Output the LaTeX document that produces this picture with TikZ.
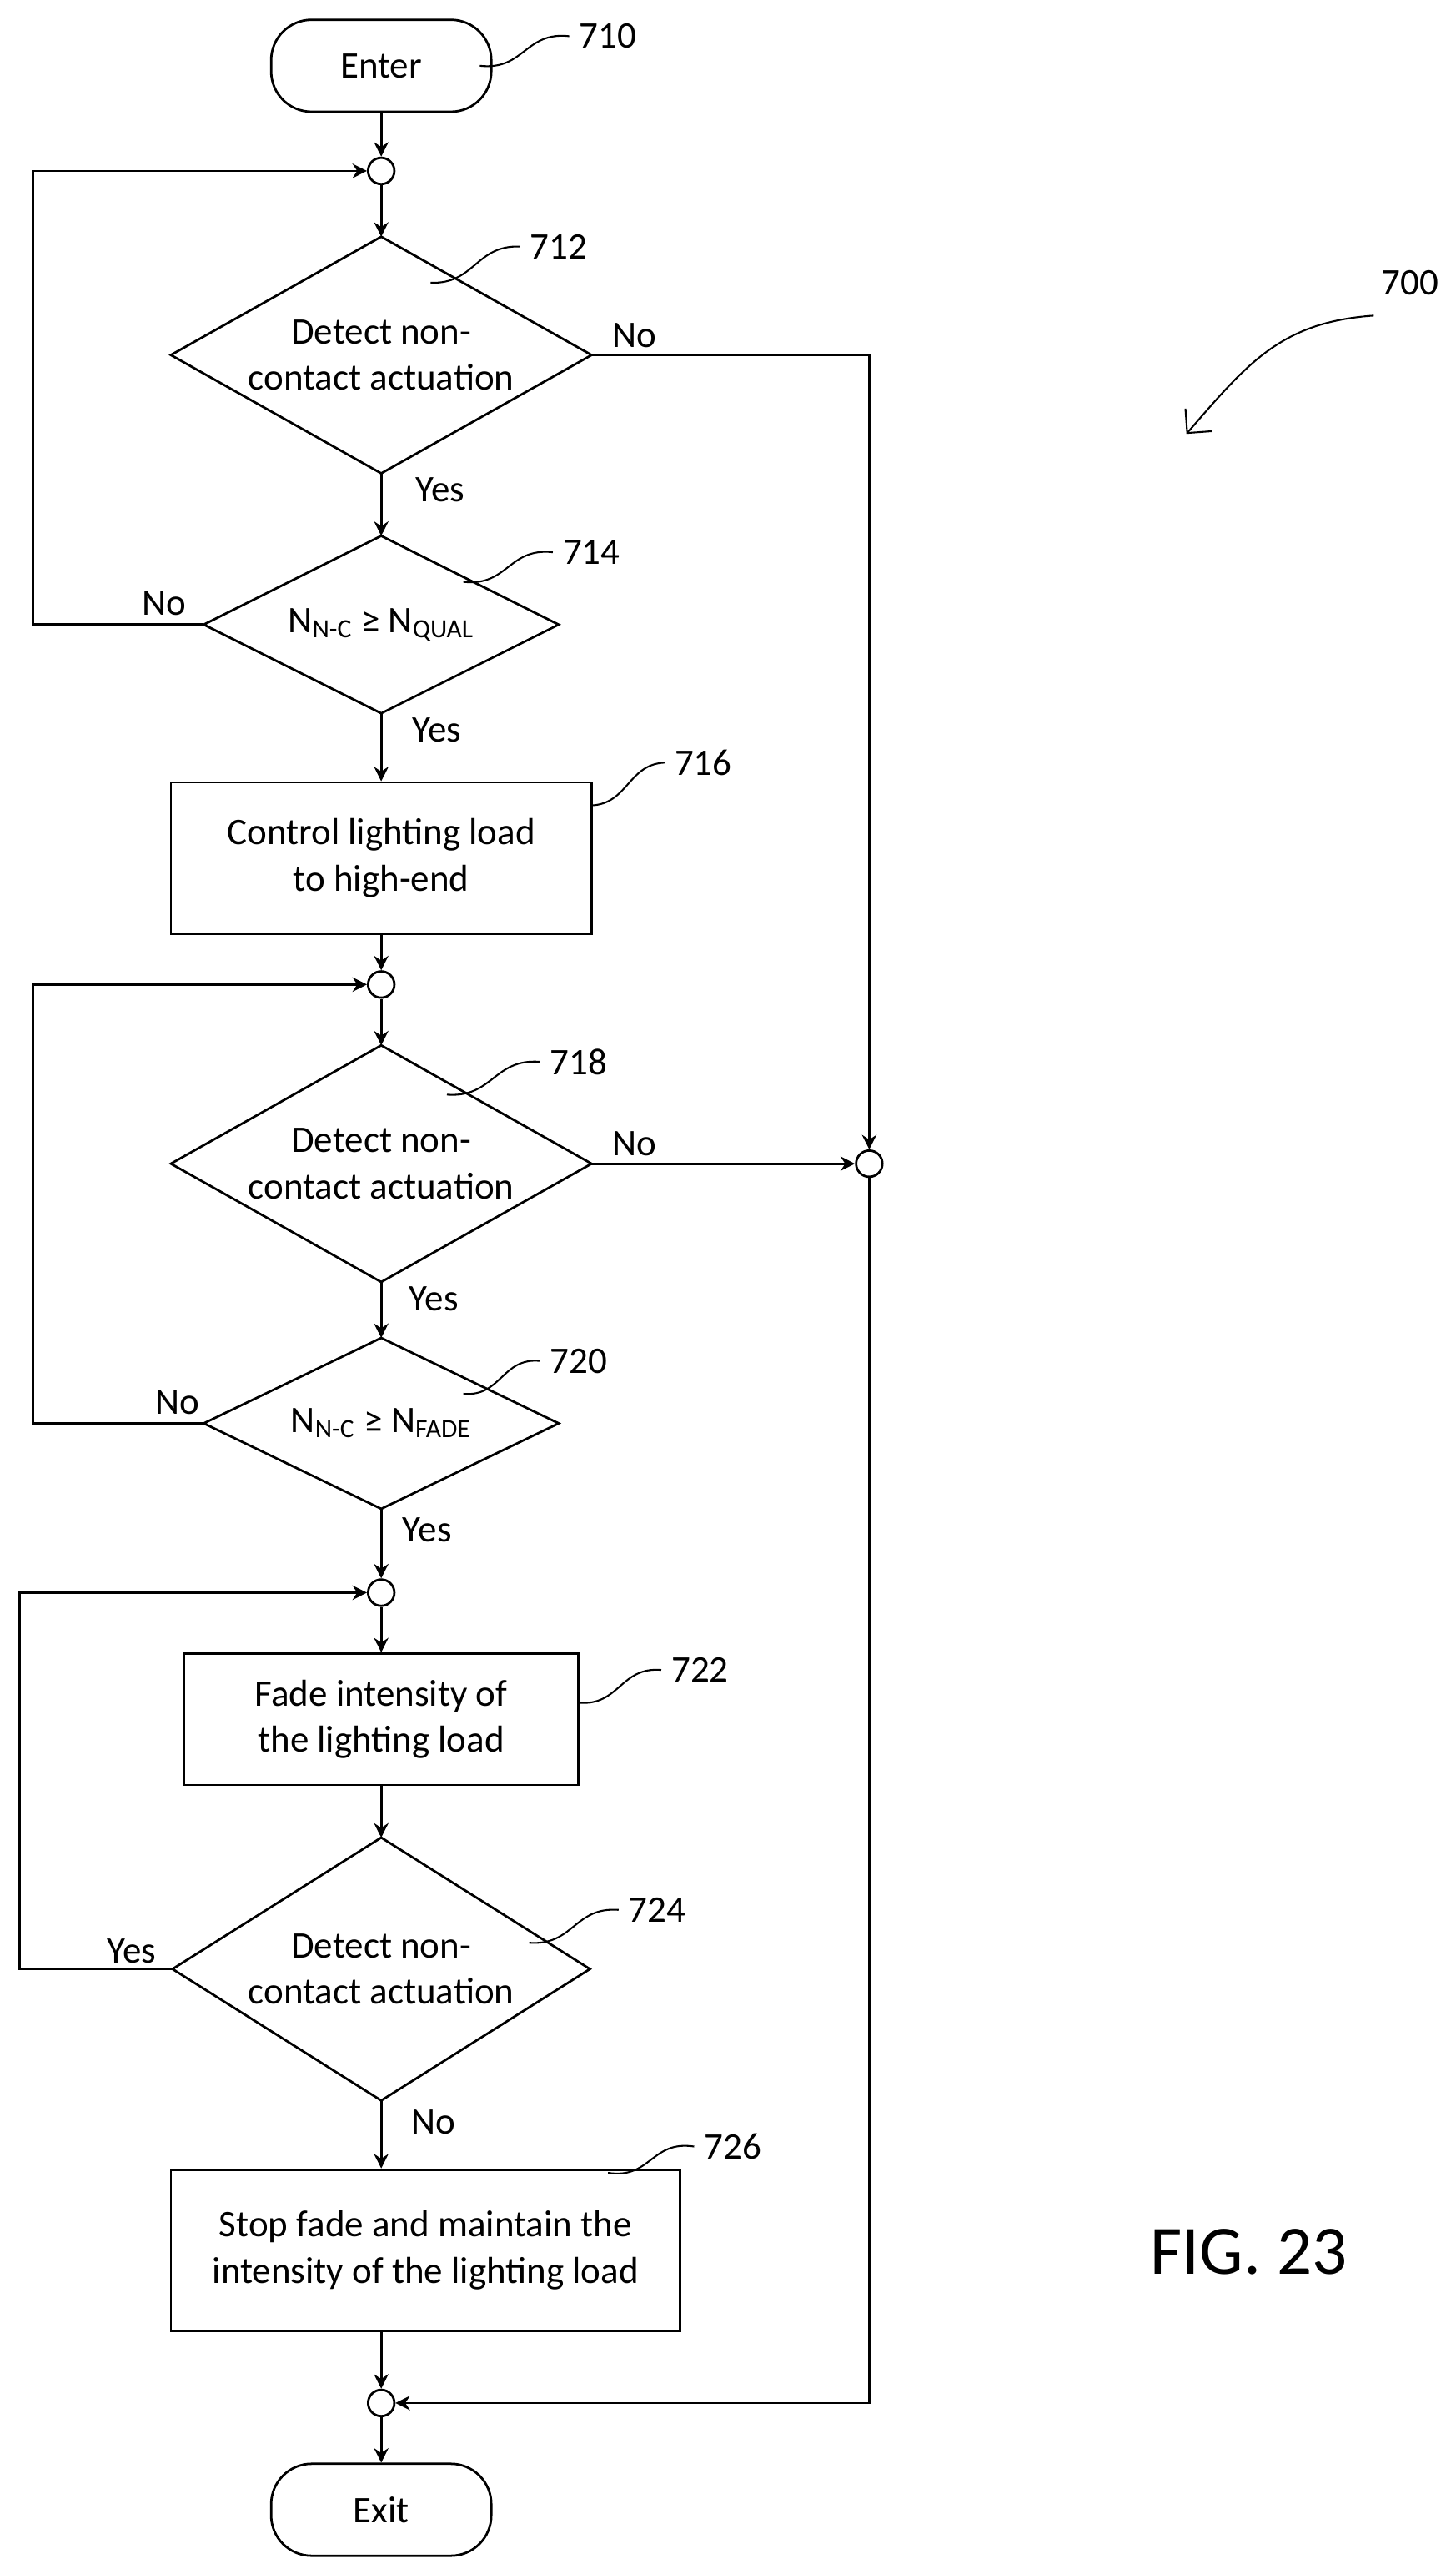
\documentclass[tikz,border=0pt]{standalone}
\usepackage{fontspec}
\setmainfont{Carlito}
\usetikzlibrary{arrows.meta,calc}
\begin{document}
\begin{tikzpicture}[x=0.02cm,y=-0.02cm,
  every node/.style={font=\fontsize{13}{16}\selectfont},
  box/.style={draw,thick,align=center,inner sep=0},
  term/.style={draw,thick,rounded corners=14,minimum width=2.68cm,minimum height=1.12cm},
  junc/.style={draw,thick,circle,minimum size=0.32cm,inner sep=0},
  ar/.style={thick,-{Stealth[length=5pt,width=5pt]}},
  lead/.style={semithick}]
\useasboundingbox (0,0) rectangle (886,1560);
% terminals
\node[term] (enter) at (232,40) {Enter};
\node[term] (exit) at (232,1527) {Exit};
% junctions
\node[junc] (j1) at (232,104) {};
\node[junc] (j2) at (232,599) {};
\node[junc] (j3) at (232,969) {};
\node[junc] (j4) at (232,1462) {};
\node[junc] (jr) at (529,708) {};
% diamonds
\newcommand{\dia}[6]{% name, cx, cy, halfw, halfh, text
  \coordinate (#1t) at (#2,#3-#5); \coordinate (#1b) at (#2,#3+#5);
  \coordinate (#1l) at (#2-#4,#3); \coordinate (#1r) at (#2+#4,#3);
  \draw[thick] (#1t)--(#1r)--(#1b)--(#1l)--cycle;
  \node[align=center] (#1) at (#2,#3) {#6};}
\dia{d712}{232}{216}{128}{72}{Detect non-\\contact actuation}
\dia{d714}{232}{380}{108}{54}{N\textsubscript{N-C} ≥ N\textsubscript{QUAL}}
\dia{d718}{232}{708}{128}{72}{Detect non-\\contact actuation}
\dia{d720}{232}{866}{108}{52}{N\textsubscript{N-C} ≥ N\textsubscript{FADE}}
\dia{d724}{232}{1198}{127}{80}{Detect non-\\contact actuation}
% boxes
\node[box,minimum width=5.12cm,minimum height=1.84cm] (r716) at (232,522) {Control lighting load\\to high-end};
\node[box,minimum width=4.8cm,minimum height=1.6cm] (r722) at (232,1046) {Fade intensity of\\the lighting load};
\node[box,minimum width=6.2cm,minimum height=1.96cm] (r726) at (259,1369) {Stop fade and maintain the\\intensity of the lighting load};
% main flow
\draw[ar] (enter) -- (j1);
\draw[ar] (j1) -- (d712t);
\draw[ar] (d712b) -- (d714t);
\draw[ar] (d714b) -- (r716.north -| d714b);
\draw[ar] (r716.south -| j2) -- (j2);
\draw[ar] (j2) -- (d718t);
\draw[ar] (d718b) -- (d720t);
\draw[ar] (d720b) -- (j3);
\draw[ar] (j3) -- (r722);
\draw[ar] (r722) -- (d724t);
\draw[ar] (d724b) -- (r726.north -| d724b);
\draw[ar] (r726.south -| j4) -- (j4);
\draw[ar] (j4) -- (exit);
% loops
\draw[ar] (d714l) -- (20,380) -- (20,104) -- (j1);
\draw[ar] (d720l) -- (20,866) -- (20,599) -- (j2);
\draw[ar] (d724l) -- (12,1198) -- (12,969) -- (j3);
% right side
\draw[ar] (d712r) -- (529,216) -- (jr);
\draw[ar] (d718r) -- (jr);
\draw[ar] (jr) -- (529,1462) -- (j4);
% labels
\node (l1) at (386,204) {No};
\node (l2) at (268,298) {Yes};
\node (l3) at (100,367) {No};
\node (l4) at (266,444) {Yes};
\node (l5) at (386,696) {No};
\node (l6) at (264,790) {Yes};
\node (l7) at (108,853) {No};
\node (l8) at (260,931) {Yes};
\node (l9) at (80,1187) {Yes};
\node (l10) at (264,1291) {No};
% reference numerals
\newcommand{\refn}[5]{% label, x, y, fromx, fromy
  \node (n#1) at (#2,#3) {#1};
  \coordinate (s#1) at (#4,#5);
  \draw[lead] (s#1) .. controls ($(s#1)!0.5!(n#1.west)+(0,12)$) and ($(s#1)!0.5!(n#1.west)+(0,-12)$) .. (n#1.west);}
\refn{710}{370}{22}{292}{40}
\refn{712}{340}{150}{262}{172}
\refn{714}{360}{336}{282}{354}
\refn{716}{428}{464}{360}{490}
\refn{718}{352}{646}{272}{666}
\refn{720}{352}{828}{282}{848}
\refn{722}{426}{1016}{352}{1036}
\refn{724}{400}{1162}{322}{1182}
\refn{726}{446}{1306}{370}{1322}
\node (n700) at (858,172) {700};
\coordinate (a700) at (722,264);
\draw[semithick,-{Straight Barb[length=6pt]}] (836,192) .. controls (780,196) and (760,220) .. (a700);
\node[font=\fontsize{24}{28}\selectfont] (fig) at (760,1370) {FIG. 23};
\end{tikzpicture}
\end{document}
